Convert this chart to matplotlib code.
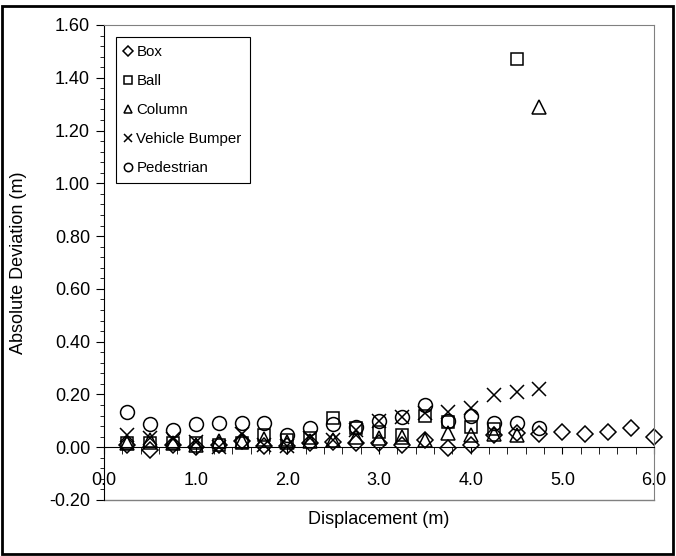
import matplotlib
matplotlib.use("Agg")
import matplotlib.pyplot as plt
from matplotlib.patches import Rectangle
from matplotlib.ticker import MultipleLocator, FormatStrFormatter

plt.rcParams['font.family'] = ['Liberation Sans', 'DejaVu Sans']

# displacement steps (m)
x_box = [0.25, 0.5, 0.75, 1.0, 1.25, 1.5, 1.75, 2.0, 2.25, 2.5, 2.75, 3.0,
         3.25, 3.5, 3.75, 4.0, 4.25, 4.5, 4.75, 5.0, 5.25, 5.5, 5.75, 6.0]
x_ball = [0.25, 0.5, 0.75, 1.0, 1.25, 1.5, 1.75, 2.0, 2.25, 2.5, 2.75, 3.0,
          3.25, 3.5, 3.75, 4.0, 4.25, 4.5]
x_other = [0.25, 0.5, 0.75, 1.0, 1.25, 1.5, 1.75, 2.0, 2.25, 2.5, 2.75, 3.0,
           3.25, 3.5, 3.75, 4.0, 4.25, 4.5, 4.75]

# absolute deviation (m)
box = [0.007, -0.01, 0.01, 0.0, 0.007, 0.025, 0.003, 0.003, 0.015, 0.02, 0.015, 0.015,
       0.01, 0.027, -0.004, 0.01, 0.045, 0.055, 0.05, 0.058, 0.05, 0.058, 0.072, 0.038]
ball = [0.015, 0.015, 0.015, 0.015, 0.01, 0.015, 0.045, 0.027, 0.035, 0.11, 0.072, 0.058,
        0.045, 0.12, 0.095, 0.077, 0.07, 1.47]
column = [0.015, 0.027, 0.015, 0.01, 0.025, 0.025, 0.03, 0.02, 0.025, 0.027, 0.04, 0.035,
          0.04, 0.027, 0.053, 0.045, 0.05, 0.045, 1.29]
bumper = [0.045, 0.035, 0.03, 0.02, 0.0, 0.05, 0.01, 0.005, 0.035, 0.027, 0.065, 0.10,
          0.113, 0.13, 0.135, 0.148, 0.197, 0.21, 0.22]
pedestrian = [0.133, 0.087, 0.065, 0.087, 0.09, 0.09, 0.09, 0.045, 0.072, 0.087, 0.077, 0.10,
              0.113, 0.16, 0.10, 0.12, 0.09, 0.09, 0.072]

fig = plt.figure(figsize=(6.76, 5.56), dpi=100)
ax = fig.add_axes([104 / 676, 1 - 500 / 556, 550 / 676, 475 / 556])

kw = dict(linestyle='none', markerfacecolor='none', markeredgecolor='black',
          markeredgewidth=1.1, clip_on=False)
ax.plot(x_box, box, marker='D', markersize=8, label='Box', **kw)
ax.plot(x_ball, ball, marker='s', markersize=9, label='Ball', **kw)
ax.plot(x_other, column, marker='^', markersize=10, label='Column', **kw)
ax.plot(x_other, bumper, marker='x', markersize=10, label='Vehicle Bumper', **kw)
ax.plot(x_other, pedestrian, marker='o', markersize=10, label='Pedestrian', **kw)

ax.set_xlim(0, 6)
ax.set_ylim(-0.2, 1.6)
ax.xaxis.set_major_locator(MultipleLocator(1.0))
ax.xaxis.set_minor_locator(MultipleLocator(0.2))
ax.yaxis.set_major_locator(MultipleLocator(0.2))
ax.yaxis.set_minor_locator(MultipleLocator(0.04))
ax.xaxis.set_major_formatter(FormatStrFormatter('%.1f'))
ax.yaxis.set_major_formatter(FormatStrFormatter('%.2f'))

ax.spines['bottom'].set_position(('data', 0))
ax.spines['bottom'].set_color('black')
ax.spines['left'].set_color('black')
ax.spines['top'].set_color('#808080')
ax.spines['right'].set_color('#808080')
ax.plot([0, 1], [0, 0], transform=ax.transAxes, color='#808080', lw=1, clip_on=False)

ax.tick_params(axis='x', which='major', direction='out', length=5, pad=13, labelsize=13)
ax.tick_params(axis='x', which='minor', direction='out', length=5)
ax.tick_params(axis='y', which='major', direction='out', length=6, pad=4, labelsize=13)
ax.tick_params(axis='y', which='minor', direction='out', length=3)

ax.set_xlabel('Displacement (m)', fontsize=13)
ax.set_ylabel('Absolute Deviation (m)', fontsize=13)
ax.xaxis.set_label_coords(0.5, -0.024)
ax.yaxis.set_label_coords(-0.14, 0.5)

leg = ax.legend(loc='upper left', bbox_to_anchor=(0.022, 0.975), borderaxespad=0,
                fontsize=10.8, markerscale=0.6, handlelength=0.5, handletextpad=0.3,
                labelspacing=1.0, borderpad=0.55, fancybox=False, framealpha=1)
leg.get_frame().set_edgecolor('black')
leg.get_frame().set_linewidth(0.8)

fig.patches.append(Rectangle((0.003, 0.004), 0.993, 0.986, transform=fig.transFigure,
                             fill=False, edgecolor='black', linewidth=2.0))

fig.savefig('out.png', dpi=100)
